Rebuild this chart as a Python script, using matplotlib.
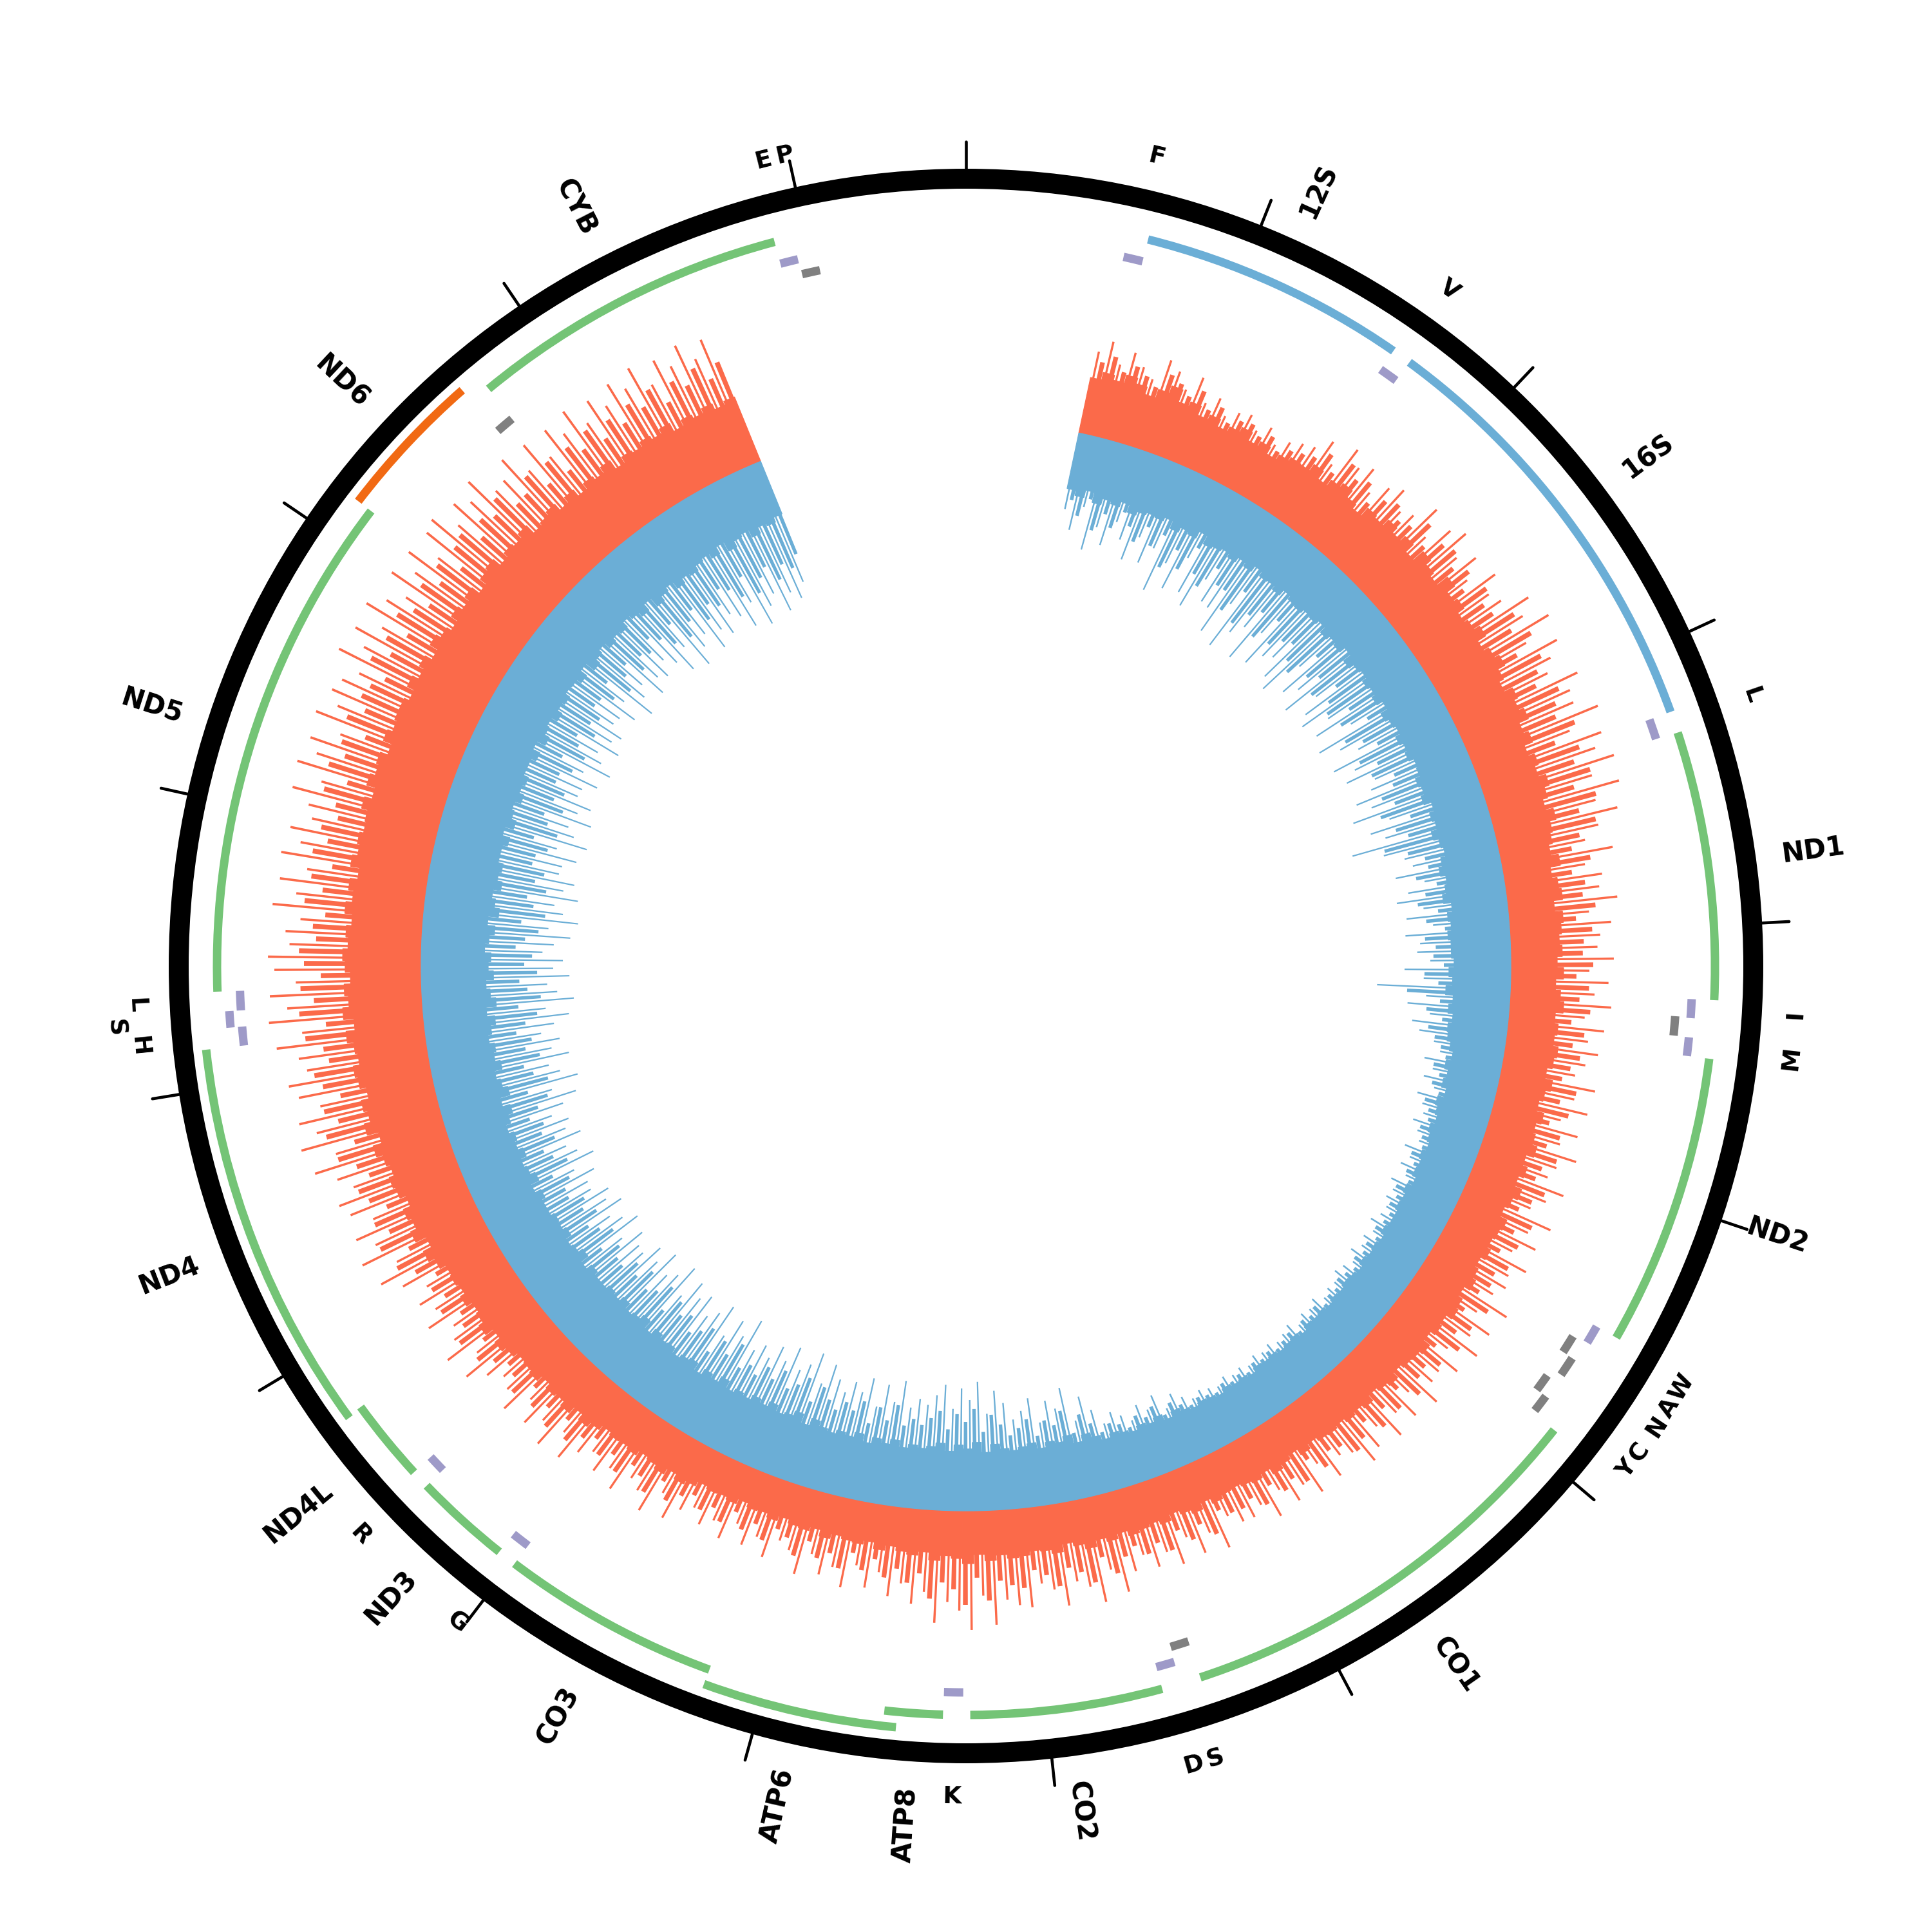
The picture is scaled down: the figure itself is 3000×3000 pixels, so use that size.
import numpy as np
import matplotlib
matplotlib.use('Agg')
import matplotlib.pyplot as plt

GENOME = 16569

# mitochondrial features (start, end in bp)
gene_names = ['F', '12S', 'V', '16S', 'L', 'ND1', 'I', 'Q', 'M', 'ND2', 'W', 'A', 'N', 'C', 'Y',
              'CO1', 'S', 'D', 'CO2', 'K', 'ATP8', 'ATP6', 'CO3', 'G', 'ND3', 'R', 'ND4L', 'ND4',
              'H', 'S', 'L', 'ND5', 'ND6', 'E', 'CYB', 'T', 'P']
gene_start = [577, 648, 1602, 1671, 3230, 3307, 4263, 4329, 4402, 4470, 5512, 5587, 5657, 5761, 5826,
              5904, 7446, 7518, 7586, 8295, 8366, 8527, 9207, 9991, 10059, 10405, 10470, 10760,
              12138, 12207, 12266, 12337, 14149, 14674, 14747, 15888, 15956]
gene_end = [647, 1601, 1670, 3229, 3304, 4262, 4331, 4400, 4469, 5511, 5579, 5655, 5729, 5826, 5891,
            7445, 7514, 7585, 8269, 8364, 8572, 9207, 9990, 10058, 10404, 10469, 10766, 12137,
            12206, 12265, 12336, 14148, 14673, 14742, 15887, 15953, 16023]
gene_type = ['trna_h', 'rrna', 'trna_h', 'rrna', 'trna_h', 'cds', 'trna_h', 'trna_l', 'trna_h', 'cds',
             'trna_h', 'trna_l', 'trna_l', 'trna_l', 'trna_l', 'cds', 'trna_l', 'trna_h', 'cds',
             'trna_h', 'cds', 'cds', 'cds', 'trna_h', 'cds', 'trna_h', 'cds', 'cds', 'trna_h',
             'trna_h', 'trna_h', 'cds', 'cds_l', 'trna_l', 'cds', 'trna_h', 'trna_l']
# label shown for each feature ('' = no label)
gene_label = ['F', '12S', 'V', '16S', 'L', 'ND1', 'I', '', 'M', 'ND2', 'W', 'A', 'N', 'C', 'Y',
              'CO1', 'S', 'D', 'CO2', 'K', 'ATP8', 'ATP6', 'CO3', 'G', 'ND3', 'R', 'ND4L', 'ND4',
              'H', 'S', 'L', 'ND5', 'ND6', '', 'CYB', 'E', 'P']

# per-base signal summarised in 50 bp bins (centres 575 ... 15525):
# *_mid = level reached by most bases, *_up = upper bases, *_top = highest base
bin_bp = np.arange(575, 15526, 50)
red_mid = [88, 100, 92, 105, 96, 84, 98, 110, 90, 97,
           82, 90, 78, 86, 94, 80, 88, 76, 85, 91,
           90, 102, 87, 98, 105, 92, 84, 100, 96, 108,
           98, 108, 92, 112, 102, 95, 115, 100, 106, 94,
           100, 110, 95, 104, 112, 100, 92, 106, 100, 108,
           92, 100, 86, 96, 90, 102, 94, 86, 98, 88,
           84, 78, 90, 74, 82, 86, 72, 84, 80, 76,
           80, 72, 82, 70, 78, 84, 72, 78, 74, 82,
           78, 70, 82, 74, 68, 80, 72, 76, 84, 72,
           80, 72, 84, 76, 70, 82, 78, 74, 80, 72,
           78, 84, 74, 82, 86, 76, 80, 72, 84, 78,
           76, 70, 80, 74, 68, 78, 72, 76, 70, 74,
           72, 66, 74, 64, 70, 76, 66, 72, 68, 64,
           66, 72, 64, 74, 68, 62, 72, 66, 70, 74,
           66, 74, 68, 78, 70, 64, 76, 70, 68, 74,
           76, 70, 78, 68, 82, 74, 70, 78, 66, 72,
           68, 62, 70, 60, 66, 64, 60, 68, 58, 64,
           62, 56, 64, 58, 60, 54, 62, 58, 60, 56,
           64, 70, 62, 72, 66, 62, 70, 66, 68, 64,
           72, 80, 70, 82, 74, 78, 70, 80, 76, 74,
           82, 90, 80, 94, 86, 82, 92, 84, 88, 86,
           96, 106, 92, 110, 100, 106, 94, 104, 108, 100,
           106, 116, 102, 120, 110, 116, 104, 114, 118, 108,
           112, 122, 108, 124, 114, 120, 110, 118, 122, 114,
           118, 110, 122, 112, 120, 108, 122, 114, 118, 112,
           114, 124, 112, 126, 118, 122, 110, 124, 116, 120,
           120, 112, 124, 114, 122, 110, 124, 116, 108, 120,
           112, 120, 106, 118, 122, 108, 116, 112, 120, 104,
           108, 114, 102, 112, 100, 110, 104, 114, 98, 108,
           104, 112, 106, 114, 100, 110, 104, 112, 102, 108]
red_up = [115, 128, 108, 122, 112, 100, 126, 118, 104, 120,
          96, 108, 90, 102, 106, 94, 104, 88, 100, 106,
          112, 130, 108, 138, 122, 132, 106, 126, 136, 118,
          125, 148, 118, 142, 150, 130, 146, 122, 152, 134,
          138, 165, 148, 172, 136, 168, 152, 140, 170, 156,
          148, 172, 132, 165, 150, 170, 138, 168, 136, 158,
          128, 112, 138, 106, 124, 118, 136, 104, 128, 114,
          112, 128, 102, 122, 108, 126, 98, 120, 104, 118,
          106, 96, 122, 100, 118, 92, 114, 98, 120, 102,
          98, 120, 106, 92, 122, 100, 116, 94, 118, 104,
          108, 98, 126, 94, 120, 104, 124, 92, 116, 100,
          104, 122, 92, 116, 98, 120, 94, 112, 122, 100,
          94, 112, 86, 114, 98, 108, 88, 112, 92, 100,
          98, 86, 118, 94, 112, 90, 116, 98, 110, 92,
          104, 126, 96, 132, 112, 102, 128, 108, 98, 124,
          118, 110, 140, 104, 146, 122, 112, 138, 100, 116,
          96, 112, 86, 106, 82, 110, 90, 102, 80, 108,
          84, 76, 100, 80, 96, 74, 98, 82, 94, 78,
          88, 106, 82, 112, 94, 86, 110, 90, 104, 86,
          98, 118, 92, 122, 98, 114, 90, 120, 102, 96,
          110, 128, 102, 134, 114, 106, 130, 112, 124, 106,
          132, 154, 124, 164, 140, 156, 128, 150, 160, 136,
          150, 174, 142, 182, 158, 176, 146, 170, 180, 154,
          160, 186, 152, 192, 168, 188, 156, 182, 190, 164,
          170, 152, 186, 160, 180, 150, 184, 164, 178, 156,
          164, 188, 156, 192, 172, 184, 152, 190, 168, 182,
          176, 160, 194, 170, 188, 162, 192, 174, 158, 186,
          164, 184, 152, 180, 186, 158, 178, 166, 184, 154,
          156, 176, 144, 172, 140, 170, 152, 174, 146, 168,
          150, 172, 156, 176, 144, 170, 154, 174, 148, 168]
red_top = [130, 150, 118, 142, 124, 110, 147, 135, 112, 139,
           104, 120, 98, 112, 118, 100, 115, 95, 110, 119,
           125, 148, 118, 160, 139, 152, 120, 145, 158, 130,
           140, 172, 130, 165, 180, 145, 168, 136, 176, 150,
           160, 198, 175, 210, 158, 202, 180, 165, 207, 185,
           182, 215, 160, 205, 188, 212, 170, 208, 165, 195,
           160, 135, 175, 128, 152, 145, 171, 125, 158, 140,
           135, 160, 122, 152, 131, 158, 118, 150, 127, 145,
           128, 115, 150, 121, 146, 108, 140, 117, 149, 123,
           115, 148, 126, 108, 150, 120, 142, 111, 145, 124,
           130, 118, 155, 112, 148, 125, 152, 109, 143, 121,
           124, 150, 108, 141, 117, 147, 112, 138, 150, 119,
           110, 136, 100, 140, 115, 132, 102, 138, 108, 120,
           118, 100, 145, 112, 138, 105, 142, 116, 134, 109,
           130, 158, 118, 165, 137, 125, 160, 132, 120, 155,
           150, 140, 178, 132, 185, 155, 142, 175, 128, 148,
           118, 140, 105, 132, 100, 138, 110, 126, 98, 135,
           102, 92, 125, 98, 118, 90, 122, 100, 115, 95,
           108, 132, 98, 140, 115, 104, 136, 110, 128, 105,
           120, 145, 110, 150, 118, 140, 108, 147, 123, 114,
           132, 158, 122, 165, 138, 126, 160, 135, 152, 128,
           160, 188, 150, 200, 168, 192, 155, 185, 196, 165,
           185, 215, 175, 225, 195, 218, 180, 210, 222, 190,
           200, 232, 190, 240, 210, 236, 195, 228, 238, 205,
           212, 190, 235, 200, 228, 188, 232, 205, 225, 195,
           205, 236, 195, 240, 215, 232, 190, 238, 210, 228,
           220, 200, 245, 212, 238, 202, 242, 218, 195, 235,
           205, 232, 190, 228, 235, 198, 225, 208, 232, 192,
           195, 220, 180, 215, 175, 212, 190, 218, 182, 210,
           188, 215, 195, 220, 180, 212, 192, 218, 186, 210]
blue_mid = [88, 96, 84, 100, 90, 94, 86, 98, 92, 88,
            90, 84, 96, 88, 92, 80, 94, 90, 86, 92,
            84, 90, 80, 88, 86, 92, 82, 88, 90, 84,
            86, 80, 90, 84, 88, 78, 92, 84, 80, 88,
            84, 90, 80, 92, 86, 82, 90, 84, 88, 80,
            82, 90, 86, 92, 80, 88, 84, 94, 86, 82,
            90, 96, 88, 92, 98, 86, 94, 90, 96, 92,
            92, 88, 96, 90, 100, 88, 94, 86, 92, 90,
            84, 78, 86, 80, 84, 76, 86, 82, 78, 84,
            80, 76, 82, 78, 80, 74, 82, 78, 80, 76,
            76, 80, 74, 78, 76, 80, 74, 78, 80, 76,
            78, 74, 78, 76, 78, 72, 78, 76, 74, 78,
            76, 78, 72, 76, 74, 78, 72, 76, 78, 74,
            78, 84, 76, 86, 80, 84, 78, 82, 86, 80,
            88, 96, 86, 100, 92, 96, 88, 98, 94, 90,
            94, 102, 90, 106, 96, 102, 92, 104, 98, 94,
            98, 92, 102, 94, 100, 90, 102, 94, 98, 92,
            96, 104, 92, 106, 98, 94, 104, 96, 102, 94,
            98, 92, 104, 94, 100, 90, 102, 98, 92, 100,
            98, 104, 94, 108, 100, 96, 106, 98, 102, 96,
            96, 102, 92, 106, 98, 94, 104, 98, 100, 94,
            94, 100, 90, 104, 96, 92, 102, 94, 98, 90,
            98, 106, 94, 110, 102, 96, 108, 100, 104, 96,
            102, 110, 98, 114, 106, 100, 112, 104, 108, 98,
            104, 112, 100, 116, 108, 102, 114, 106, 110, 102,
            102, 110, 98, 112, 104, 100, 110, 102, 106, 98,
            98, 106, 94, 108, 100, 96, 106, 98, 102, 94,
            96, 104, 92, 108, 100, 94, 104, 98, 102, 92,
            98, 106, 94, 110, 102, 96, 108, 100, 104, 96,
            92, 100, 88, 104, 94, 90, 102, 92, 96, 88]
blue_up = [104, 126, 96, 142, 112, 130, 100, 118, 138, 108,
           134, 110, 158, 122, 148, 104, 142, 156, 116, 138,
           138, 166, 122, 172, 146, 130, 168, 124, 160, 142,
           134, 158, 170, 120, 152, 138, 164, 126, 150, 162,
           130, 154, 114, 162, 138, 120, 158, 134, 150, 118,
           126, 150, 134, 162, 118, 146, 130, 172, 138, 114,
           112, 134, 104, 124, 138, 108, 128, 100, 132, 116,
           120, 104, 134, 112, 160, 108, 128, 102, 122, 110,
           98, 88, 104, 92, 100, 86, 104, 94, 90, 98,
           90, 84, 96, 86, 92, 82, 96, 88, 92, 84,
           86, 92, 82, 90, 86, 92, 82, 88, 92, 84,
           86, 80, 90, 84, 88, 78, 88, 84, 80, 86,
           82, 86, 78, 84, 80, 86, 78, 82, 86, 80,
           88, 98, 84, 104, 92, 100, 86, 96, 102, 92,
           110, 128, 102, 140, 120, 130, 108, 136, 124, 114,
           132, 148, 122, 158, 138, 150, 126, 154, 142, 130,
           138, 126, 156, 130, 148, 120, 152, 134, 144, 128,
           140, 156, 128, 162, 146, 134, 158, 138, 152, 132,
           142, 130, 164, 138, 154, 126, 160, 146, 134, 156,
           146, 162, 134, 170, 150, 140, 166, 144, 158, 138,
           140, 154, 130, 162, 146, 134, 158, 142, 152, 132,
           134, 148, 126, 158, 140, 130, 154, 138, 146, 128,
           146, 166, 138, 174, 154, 142, 170, 150, 162, 140,
           156, 176, 148, 184, 164, 152, 180, 160, 172, 146,
           160, 180, 152, 188, 168, 156, 184, 164, 176, 154,
           156, 172, 146, 180, 160, 150, 176, 156, 168, 148,
           148, 164, 140, 172, 154, 144, 168, 152, 160, 142,
           144, 160, 136, 172, 152, 140, 166, 148, 156, 138,
           152, 172, 144, 180, 160, 148, 176, 156, 168, 146,
           156, 176, 148, 184, 164, 152, 180, 160, 172, 154]
blue_top = [120, 150, 110, 175, 135, 160, 118, 142, 170, 128,
            165, 135, 200, 148, 185, 125, 178, 195, 140, 172,
            175, 210, 150, 220, 185, 165, 215, 155, 205, 180,
            170, 200, 215, 150, 195, 175, 210, 160, 190, 205,
            165, 195, 140, 205, 175, 150, 200, 170, 190, 148,
            160, 190, 170, 205, 150, 185, 165, 222, 175, 145,
            135, 165, 122, 150, 170, 130, 158, 118, 162, 140,
            145, 125, 165, 135, 207, 130, 158, 122, 148, 135,
            110, 98, 120, 104, 115, 95, 118, 106, 100, 112,
            100, 92, 110, 96, 105, 90, 108, 98, 102, 94,
            96, 105, 92, 100, 94, 104, 90, 98, 103, 92,
            94, 88, 100, 92, 96, 86, 98, 92, 88, 95,
            90, 95, 86, 92, 88, 94, 85, 90, 95, 88,
            98, 110, 92, 120, 102, 115, 95, 108, 118, 104,
            130, 155, 120, 175, 145, 160, 128, 168, 150, 138,
            165, 185, 150, 200, 172, 190, 158, 195, 178, 162,
            170, 155, 195, 160, 185, 148, 190, 165, 178, 158,
            175, 195, 160, 205, 182, 168, 200, 172, 190, 165,
            180, 165, 210, 175, 195, 160, 205, 185, 170, 198,
            185, 205, 170, 215, 190, 178, 210, 182, 200, 175,
            178, 195, 165, 205, 185, 170, 200, 180, 192, 168,
            170, 188, 160, 200, 178, 165, 195, 175, 185, 162,
            185, 210, 175, 220, 195, 180, 215, 190, 205, 178,
            200, 225, 190, 235, 210, 195, 230, 205, 220, 188,
            205, 230, 195, 240, 215, 200, 235, 210, 225, 198,
            200, 220, 185, 230, 205, 192, 225, 198, 215, 188,
            190, 210, 180, 220, 198, 185, 215, 195, 205, 182,
            185, 205, 175, 220, 195, 180, 212, 190, 200, 178,
            195, 220, 185, 230, 205, 190, 225, 200, 215, 188,
            200, 225, 190, 235, 210, 195, 230, 205, 220, 198]

tick_bp = np.arange(0, 16001, 1000)

RED = '#fb6a4a'
BLUE = '#6baed6'
colors = {'cds': '#74c476', 'rrna': '#6baed6', 'trna_h': '#9e9ac8',
          'trna_l': '#808080', 'cds_l': '#f16913'}


def ang(bp):
    return np.asarray(bp, dtype=float) / GENOME * 2 * np.pi


fig = plt.figure(figsize=(10, 10), dpi=300)
ax = fig.add_axes([0, 0, 1, 1], projection='polar')
ax.set_theta_zero_location('N')
ax.set_theta_direction(-1)
ax.set_ylim(0, 1500)
ax.set_axis_off()

R0 = 846
# red signal outward from R0, blue signal inward
ax.bar(ang(bin_bp), red_mid, width=ang(50), bottom=R0, color=RED, ec=RED, lw=0.3)
ax.bar(ang(bin_bp + 12), red_up, width=ang(20), bottom=R0, color=RED, lw=0)
ax.bar(ang(bin_bp - 13), red_top, width=ang(9), bottom=R0, color=RED, lw=0)
for vals, off, w in [(blue_mid, 0, 50), (blue_up, 12, 20), (blue_top, -13, 9)]:
    v = np.array(vals)
    ax.bar(ang(bin_bp + off), v, width=ang(w), bottom=R0 - v, color=BLUE,
           ec=BLUE if w == 50 else 'none', lw=0.3 if w == 50 else 0)

# outer ring and ticks
ax.bar(0, 31, width=2 * np.pi, bottom=1207, color='black', lw=0)
for t in tick_bp:
    ax.plot([ang(t), ang(t)], [1238, 1280], color='black', lw=1.1, solid_capstyle='round')

# feature tracks, touching/overlapping features are pushed to a second level
base_r = {'cds': 1163, 'rrna': 1163, 'cds_l': 1188, 'trna_h': 1128, 'trna_l': 1104}
step_r = {'cds': 24, 'rrna': 24, 'cds_l': 0, 'trna_h': 18, 'trna_l': 17}
last_end = {}
for name, s, e, kind in zip(gene_names, gene_start, gene_end, gene_type):
    trk = 'cds' if kind == 'rrna' else kind
    lvl = 1 if (trk in last_end and s - last_end[trk] <= 2) else 0
    if lvl == 0:
        last_end[trk] = e
    r = base_r[kind] + lvl * step_r[kind]
    ax.bar(ang((s + e) / 2), 13, width=ang(e - s + 1), bottom=r - 6.5,
           color=colors[kind], lw=0)

# labels: tRNAs tangential, other genes radial
prev_mid = -1e9
for lab, s, e, kind in zip(gene_label, gene_start, gene_end, gene_type):
    if not lab:
        continue
    mid = (s + e) / 2
    th = np.degrees(ang(mid))
    if kind.startswith('trna'):
        rot = -th
        if 90 < th < 270:
            rot += 180
        r = 1290
        if mid - prev_mid < 65:
            r = 1325
            prev_mid = -1e9
        else:
            prev_mid = mid
        ax.text(ang(mid), r, lab, rotation=rot, rotation_mode='anchor',
                ha='center', va='center', fontsize=9, fontweight='bold')
    else:
        if th < 180:
            rot, ha = 90 - th, 'left'
        else:
            rot, ha = 270 - th, 'right'
        ax.text(ang(mid), 1278, lab, rotation=rot, rotation_mode='anchor',
                ha=ha, va='center', fontsize=10, fontweight='bold')

fig.savefig('out.png', dpi=300)
